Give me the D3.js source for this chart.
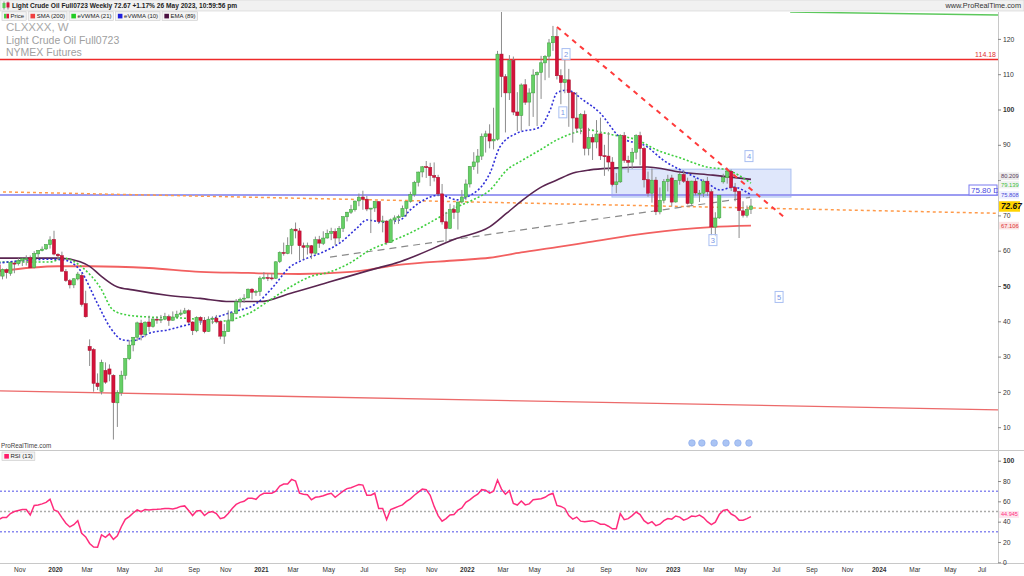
<!DOCTYPE html>
<html><head><meta charset="utf-8">
<script src="https://cdn.jsdelivr.net/npm/d3@7"></script>
<style>body{margin:0;background:#fff;}svg{display:block;font-family:"Liberation Sans",Arial,sans-serif;}</style>
</head><body><svg id="c" width="1024" height="576"></svg>
<script>
// ---------- DATA ----------
const firstWeek = "2019-09-30";   // Monday of first weekly candle
const opens = [
56.0,52.8,54.6,53.6,56.5,56.3,57.1,57.7,58.0,55.3,59.1,60.0,60.5,61.7,
63.2,59.0,58.6,54.1,51.5,50.3,52.0,53.0,45.0,32.9,32.0,22.5,20.1,26.1,26.5,24.7,16.9,19.8,24.7,29.4,33.3,35.5,39.5,36.3,39.8,38.5,40.6,40.5,40.6,41.3,40.3,41.2,42.0,42.3,43.0,39.8,37.3,41.1,40.3,37.1,40.6,40.9,39.9,35.8,37.1,40.1,42.2,45.5,46.3,46.6,49.1,48.2,
48.4,52.2,52.4,52.3,52.2,56.9,59.5,59.2,61.5,66.1,65.6,61.4,61.0,61.4,59.3,63.1,62.1,63.6,64.9,65.4,63.6,66.3,69.6,70.9,71.6,74.1,75.2,74.6,71.8,72.1,73.9,68.3,68.4,62.3,68.7,69.3,69.7,72.0,74.0,75.9,79.4,82.3,83.8,83.6,81.3,80.8,76.1,68.2,66.3,71.7,70.9,73.8,
75.2,78.9,83.8,85.1,86.8,92.3,93.1,91.1,91.6,115.7,109.3,104.7,113.9,99.3,98.3,107.0,102.1,104.7,109.8,110.5,113.2,115.1,118.9,120.7,109.6,107.6,108.4,104.8,97.6,94.7,98.6,89.0,92.1,90.8,93.1,86.9,86.8,85.1,78.7,79.5,92.6,85.6,85.1,87.9,92.6,89.0,80.1,76.3,80.0,71.0,74.3,79.6,
80.6,73.8,79.9,81.6,79.7,73.4,79.7,76.3,76.3,79.7,76.7,66.7,69.3,79.5,80.7,82.5,77.9,76.8,71.3,70.0,71.7];
const highs = [
56.3,54.95,54.95,56.92,56.9,57.88,58.0,58.7,58.65,59.85,60.2,61.2,61.9,64.09,
65.65,59.3,59.73,54.78,52.0,52.2,54.0,53.6,48.66,34.88,32.4,25.24,29.13,28.36,27.8,25.0,20.48,26.0,29.5,34.66,35.5,39.9,40.44,40.0,41.6,40.9,41.4,41.8,42.4,41.9,42.8,43.0,43.3,43.8,43.4,40.0,41.4,41.4,41.2,41.4,41.4,41.8,40.2,39.2,43.1,42.7,46.3,46.7,47.7,49.3,49.4,48.9,
52.75,53.93,53.5,53.6,57.0,59.8,62.3,63.8,66.4,67.98,66.4,62.3,62.3,61.6,64.0,64.2,65.5,66.0,66.5,66.3,67.0,69.8,71.0,72.99,74.2,76.2,76.98,75.5,72.1,74.0,74.0,69.9,68.6,69.1,70.0,70.2,72.8,74.0,76.7,79.8,82.4,84.0,85.41,84.9,85.0,81.5,78.9,71.0,73.3,72.9,73.9,77.2,
80.2,84.0,87.9,88.8,93.2,94.0,95.8,100.5,116.6,130.5,110.0,115.4,115.0,104.9,107.4,108.6,106.0,111.4,110.8,115.2,115.4,119.98,123.68,123.0,111.4,114.0,111.5,105.0,104.9,99.0,99.7,94.8,93.0,97.0,97.7,90.0,93.6,86.5,82.0,93.0,93.6,86.9,89.1,93.0,93.7,89.5,82.4,83.3,80.9,77.9,80.3,81.5,
81.5,80.0,82.0,82.7,80.7,79.8,80.5,77.2,80.2,80.9,77.4,70.9,75.7,81.8,83.5,83.0,79.2,76.9,74.0,72.8,74.7];
const lows = [
50.99,51.88,52.11,52.9,53.62,55.8,55.64,55.8,55.11,55.0,58.0,59.8,60.2,60.6,
58.68,57.36,54.13,51.17,49.31,49.4,51.6,44.18,41.05,27.34,20.06,20.52,19.27,22.28,23.0,6.5,10.07,18.9,23.5,29.0,31.5,34.4,34.6,35.5,37.1,38.2,39.3,39.5,40.3,38.7,40.2,41.0,41.5,42.1,39.3,36.1,36.9,39.0,36.6,37.0,39.2,39.4,34.9,33.6,37.0,40.0,42.0,43.9,45.2,46.6,46.2,47.2,
47.2,51.8,51.4,51.6,52.0,56.5,58.6,59.0,59.0,63.5,57.3,57.6,58.9,57.6,58.9,60.8,61.6,63.4,63.0,61.6,62.5,65.3,68.3,70.4,71.1,72.6,71.6,71.2,65.0,71.0,67.6,65.2,61.7,62.2,67.5,67.6,69.6,69.7,73.6,75.3,78.2,80.8,80.6,78.3,79.6,75.4,67.4,62.43,66.2,69.0,66.0,73.4,
74.3,77.9,82.9,81.8,85.7,87.8,89.0,88.7,91.2,103.5,93.5,102.7,98.4,93.9,94.0,101.3,95.3,97.9,95.3,103.0,108.3,109.0,116.6,108.5,101.5,104.6,95.1,90.6,93.5,93.0,87.0,87.0,85.7,89.0,85.7,81.2,82.5,78.2,76.3,79.2,84.9,82.1,83.2,85.9,84.2,77.9,75.3,73.6,70.1,70.3,73.4,76.8,
72.5,73.6,78.7,79.2,73.1,73.0,75.7,73.8,75.2,75.5,64.36,64.1,69.0,79.0,79.0,76.9,74.0,63.6,69.4,69.4,70.4];
const closes = [
52.81,54.70,53.78,56.66,56.20,57.24,57.72,57.77,55.17,59.20,60.07,60.44,61.72,63.05,
59.04,58.54,54.19,51.56,50.32,52.05,53.38,44.76,41.28,31.73,22.43,21.51,28.34,22.76,25.03,16.94,19.78,24.74,29.43,33.25,35.49,39.55,36.26,39.75,38.49,40.65,40.55,40.59,41.29,40.27,41.22,42.01,42.34,42.97,39.77,37.33,41.11,40.25,37.05,40.60,40.88,39.85,35.79,37.14,40.13,42.15,45.53,46.26,46.57,49.10,48.23,48.52,
52.24,52.36,52.27,52.20,56.85,59.47,59.24,61.50,66.09,65.61,61.42,60.97,61.45,59.32,63.13,62.14,63.58,64.90,65.37,63.58,66.32,69.62,70.91,71.64,74.05,75.16,74.56,71.81,72.07,73.95,68.28,68.44,62.32,68.74,69.29,69.72,71.97,73.98,75.88,79.35,82.28,83.76,83.57,81.27,80.79,76.10,68.15,66.26,71.67,70.86,73.79,75.21,
78.90,83.82,85.14,86.82,92.31,93.10,91.07,91.59,115.68,109.33,104.70,113.90,99.27,98.26,106.95,102.07,104.69,109.77,110.49,113.23,115.07,118.87,120.67,109.56,107.62,108.43,104.79,97.59,94.70,98.62,89.01,92.09,90.77,93.06,86.87,86.79,85.11,78.74,79.49,92.64,85.61,85.05,87.90,92.61,88.96,80.08,76.28,79.98,71.02,74.29,79.56,80.26,
73.77,79.86,81.64,79.68,73.39,79.72,76.34,76.32,79.68,76.68,66.74,69.26,75.67,80.70,82.52,77.87,76.78,71.34,70.04,71.69,72.67];
const rsi = [
42,44,44,48,50,51,52,52,46.6,56,56.5,57.5,59,62,
51.5,50,44,38.5,34.8,37,41,28.5,25,18.5,15,14.8,27,24.6,27.9,22.6,26,
35,42.3,45,48.5,51.5,49.8,52,51.5,52,52.2,
52.5,53,53,52.5,53.5,55,55.5,51,46,50.5,
51,46,49,50,48,43,44,48,53,57,
59,60,63,63,62,66,68,68,68,70,
75,77,77,81.6,80,68,67,66.5,61.5,64,
64.5,65.5,67,68,64,67,70,72.5,73.4,75,
76.5,76,66,66,68,53,53,42,52,53.5,
55,56.5,60,62.5,66,69,72,71.5,66,55,
46,40.5,43,46.5,47,51.5,53.5,59,61.5,64.6,
67,71.5,71,68,70,81,72,67,70.5,58,
56.4,60.3,56.5,57.5,61.5,62,62.5,64,66.5,68,
56,55,53,46,42.5,44.5,40.5,40,40.5,41,
39.5,37.5,37.5,35.5,33,33,48,42,43,46,
49.5,47,41,38,40,36,37.5,41,43,42.5,
45.6,44.5,41.5,43,45.5,45,46.5,44,40,37,
39.5,47,51,52,47.5,45.5,41.5,41.5,43,44.945];

// indicator lines: week index (from firstWeek) and value
const smaWeek  = [0,15,23,38,51,63,76,89,101,116,124,132,141,149,164,180,190];
const smaValue = [54.2,55.6,55.6,55.1,54.0,53.7,53.4,54.0,56.0,57.3,58.0,59.5,61.0,62.4,65.0,66.7,67.106];
const emaWeek  = [0,15.5,20.6,23.1,25.6,29.9,33.9,42.5,50.9,58.4,66,73.6,83.7,93.8,101.4,115.8,124.1,128.4,132.4,136.7,141,145.1,149.4,155.2,163.8,172.1,180.4,190];
const emaValue = [57.9,57.9,56.9,55.5,53.1,49.8,48.9,47.4,46.5,45.6,45.6,47.9,51.2,54.5,56.9,63.5,66.8,70.7,74.4,77.8,80.0,82.0,82.9,83.4,83.7,82.3,81.4,80.209];
const ev10Week  = [0,13,16.3,20.6,24.9,28.1,31.4,34,38.2,42.5,46.6,50.9,58.4,65.3,69.3,73.6,76.9,81.9,86.2,90.5,93,97.1,101.4,103.9,109,111.5,115.8,118.3,124.1,126.6,130.9,136.7,139.3,141,143.6,147.6,151.9,156.9,163.8,167.8,173.8,178.9,182.2,185.5,190];
const ev10Value = [56.5,57.6,57.4,54.5,45.2,38.4,34.7,34.5,36.7,37.5,38.7,39.8,42.4,45.2,49.7,55.4,57.4,59.6,62.2,66.4,68.7,68.1,68.7,71.5,75.2,75.8,74.4,75.2,82.0,89.4,93.3,95.0,99.9,104.7,105.5,102.7,99.0,92.2,89.4,85.7,82.0,79.2,77.2,78.0,75.808];
const ev21Week  = [0,13,16.3,21.3,25.6,28.9,32.4,38.2,46.6,50.9,53.4,58.4,63.5,68.5,73.6,78.6,83.7,88.7,93.8,98.8,103.9,111.5,115.8,119.8,124.1,128.4,132.4,136.7,141,146,149.4,151.9,155.2,161.2,166.3,172.1,178.9,183.9,190];
const ev21Value = [56.8,56.8,57.9,55.1,49.7,43.2,41.8,41.2,40.9,40.4,39.8,40.4,42.4,46.0,49.7,52.6,54.0,56.5,60.2,62.5,65.0,69.6,72.4,74.4,77.2,82.9,85.7,88.5,91.4,93.6,94.2,93.6,92.8,91.4,88.5,86.3,83.7,82.9,79.139];

// drawn objects (week index, price)
const resistanceLevel = 114.18;
const zoneLevel = 75.80;
const redTrend   = [[141,123.4],[198.6,69.3]];
const greyTrend  = [[83.7,58.2],[189.8,75.1]];
const orangeTrend= [[-0.4,76.7],[252.4,70.6]];
const lowTrend   = [[-0.4,20.3],[252.4,14.9]];
const greenTrend = [[199.9,127.6],[252.4,126.8]];
const zoneBox    = {w0:154.9, w1:200.1, top:83.1, bottom:75.2};
const waveLabels = [["1",142.5,99.2],["2",143.3,115.7],["3",180.4,63.0],["4",189.5,86.8],["5",197.1,46.9]];
const eventWeeks = [175.1,177.6,180.7,183.7,186.7,189.5];

const priceTicks = [10,20,30,40,50,60,70,80,90,100,110,120];
const priceTickLabels = ["10","20","30","40","50","60","70","","90","100","110","120"]; // "80" hidden under value tags
const rsiTicks = [0,20,40,60,80,100];
const monthTicks = ["2019-11","2020-01","2020-03","2020-05","2020-07","2020-09","2020-11","2021-01","2021-03","2021-05","2021-07","2021-09","2021-11","2022-01","2022-03","2022-05","2022-07","2022-09","2022-11","2023-01","2023-03","2023-05","2023-07","2023-09","2023-11","2024-01","2024-03","2024-05","2024-07"];
const monthLabels = ["Nov","2020","Mar","May","Jul","Sep","Nov","2021","Mar","May","Jul","Sep","Nov","2022","Mar","May","Jul","Sep","Nov","2023","Mar","May","Jul","Sep","Nov","2024","Mar","May","Jul"];

// ---------- LAYOUT ----------
const svg = d3.select("#c");
const W = 1024, H = 576, AX = 998;
const PT = 12, PB = 450, RT = 451, RB = 563;
const d0 = d3.isoParse(firstWeek + "T00:00:00Z");
const dates = d3.range(closes.length).map(i => d3.utcDay.offset(d0, 7*i));
const x = d3.scaleUtc().domain([d0, dates[dates.length-1]]).range([-1.44, 750.96]);
const xw = w => x(new Date(+d0 + w*7*864e5));
const y = d3.scaleLinear().domain([10,120]).range([427.2, 38.9]);
const yr = d3.scaleLinear().domain([0,100]).range([562.3, 460.7]);

const defs = svg.append("defs");
defs.append("clipPath").attr("id","cp").append("rect").attr("x",0).attr("y",PT).attr("width",AX).attr("height",PB-PT);
defs.append("clipPath").attr("id","cr").append("rect").attr("x",0).attr("y",RT).attr("width",AX).attr("height",RB-RT);

svg.append("rect").attr("width",W).attr("height",H).attr("fill","#fff");

// price panel
const P = svg.append("g").attr("clip-path","url(#cp)");

// watermark
P.append("text").attr("x",6).attr("y",31).attr("font-size",11.5).attr("fill","#a8a8a8").text("CLXXXX, W");
P.append("text").attr("x",6).attr("y",43.5).attr("font-size",10.5).attr("fill","#a0a0a0").text("Light Crude Oil Full0723");
P.append("text").attr("x",6).attr("y",55.5).attr("font-size",10.5).attr("fill","#a0a0a0").text("NYMEX Futures");

// zone box
P.append("rect").attr("x",xw(zoneBox.w0)).attr("y",y(zoneBox.top))
  .attr("width",xw(zoneBox.w1)-xw(zoneBox.w0)).attr("height",y(zoneBox.bottom)-y(zoneBox.top))
  .attr("fill","#dfe7fb").attr("stroke","#a9bff0").attr("stroke-width",1);

const seg = (g, pts, attrs) => {
  const l = g.append("line").attr("x1",xw(pts[0][0])).attr("y1",y(pts[0][1])).attr("x2",xw(pts[1][0])).attr("y2",y(pts[1][1]));
  Object.entries(attrs).forEach(([k,v]) => l.attr(k,v));
};
// horizontal levels
P.append("line").attr("x1",0).attr("x2",AX).attr("y1",y(zoneLevel)).attr("y2",y(zoneLevel)).attr("stroke","#9c9cf2").attr("stroke-width",2);
P.append("line").attr("x1",0).attr("x2",AX).attr("y1",y(resistanceLevel)).attr("y2",y(resistanceLevel)).attr("stroke","#ee2a2a").attr("stroke-width",1.4);
seg(P, lowTrend, {stroke:"#ec6a6a","stroke-width":1.3});
seg(P, greenTrend, {stroke:"#5cc85c","stroke-width":1.5});
seg(P, orangeTrend, {stroke:"#ff9a4a","stroke-width":1.5,"stroke-dasharray":"3,3"});
seg(P, greyTrend, {stroke:"#8a8a8a","stroke-width":1.2,"stroke-dasharray":"7,5"});

// indicators
const mk = (ws, vs) => d3.line().curve(d3.curveMonotoneX).x((d,i)=>xw(ws[i])).y((d,i)=>y(vs[i]))(vs);
P.append("path").attr("d",mk(smaWeek,smaValue)).attr("fill","none").attr("stroke","#f26060").attr("stroke-width",1.8);
P.append("path").attr("d",mk(emaWeek,emaValue)).attr("fill","none").attr("stroke","#5a2550").attr("stroke-width",1.6);
P.append("path").attr("d",mk(ev21Week,ev21Value)).attr("fill","none").attr("stroke","#3fcf3f").attr("stroke-width",1.6).attr("stroke-dasharray","2,2");
P.append("path").attr("d",mk(ev10Week,ev10Value)).attr("fill","none").attr("stroke","#3030d8").attr("stroke-width",1.6).attr("stroke-dasharray","2,2");

// candles
const cg = P.append("g");
dates.forEach((d,i) => {
  const cx = x(d), up = closes[i] >= opens[i];
  cg.append("line").attr("x1",cx).attr("x2",cx).attr("y1",y(highs[i])).attr("y2",y(lows[i])).attr("stroke","#8c8c8c").attr("stroke-width",1);
  const t = y(Math.max(opens[i],closes[i])), b = y(Math.min(opens[i],closes[i]));
  cg.append("rect").attr("x",cx-1.6).attr("y",t).attr("width",3.2).attr("height",Math.max(1,b-t))
    .attr("fill", up ? "#66d066" : "#d4123a").attr("stroke", up ? "#3c9c3c" : "#a8102e").attr("stroke-width",0.5);
});

// red dashed trend over candles
seg(P, redTrend, {stroke:"#ff3b3b","stroke-width":2,"stroke-dasharray":"5,5"});

// wave labels
waveLabels.forEach(([t,w,v]) => {
  const cx = xw(w), cy = y(v);
  P.append("rect").attr("x",cx-4).attr("y",cy-5.5).attr("width",8).attr("height",11).attr("fill","#fff").attr("fill-opacity",0.6).attr("stroke","#a9bff2");
  P.append("text").attr("x",cx).attr("y",cy+3).attr("text-anchor","middle").attr("font-size",7.5).attr("fill","#7a97e6").text(t);
});
// event markers
eventWeeks.forEach(w => {
  P.append("circle").attr("cx",xw(w)).attr("cy",443).attr("r",3.3).attr("fill","#aac4f4").attr("stroke","#86a6ea").attr("stroke-width",0.6);
});
P.append("text").attr("x",1).attr("y",448).attr("font-size",6.3).attr("fill","#444").text("ProRealTime.com");

// labels inside plot
P.append("text").attr("x",996).attr("y",y(resistanceLevel)-2.5).attr("text-anchor","end").attr("font-size",7).attr("fill","#e03030").text("114.18");
P.append("rect").attr("x",969).attr("y",185).attr("width",28).attr("height",10).attr("fill","#fff").attr("stroke","#7b7bf0");
P.append("text").attr("x",971).attr("y",193).attr("font-size",8).attr("fill","#4a4ae0").text("75.80 D");

// RSI panel
const R = svg.append("g").attr("clip-path","url(#cr)");
[[70,"#8a8af0"],[30,"#8a8af0"],[50,"#aaaaaa"]].forEach(([v,c]) => {
  R.append("line").attr("x1",0).attr("x2",AX).attr("y1",yr(v)).attr("y2",yr(v)).attr("stroke",c).attr("stroke-width",1.4).attr("stroke-dasharray","2,2");
});
R.append("path").attr("d",d3.line().x((d,i)=>x(dates[i])).y(d=>yr(d))(rsi)).attr("fill","none").attr("stroke","#ff2d7d").attr("stroke-width",1.5);

// panel frames
svg.append("line").attr("x1",0).attr("x2",W).attr("y1",PB+0.5).attr("y2",PB+0.5).attr("stroke","#c8c8c8");
svg.append("line").attr("x1",0).attr("x2",W).attr("y1",RB+0.5).attr("y2",RB+0.5).attr("stroke","#c8c8c8");
svg.append("line").attr("x1",AX+0.5).attr("x2",AX+0.5).attr("y1",PT).attr("y2",RB).attr("stroke","#c8c8c8");

// axes
const styleAxis = (g, boldSet) => {
  g.select(".domain").remove();
  g.selectAll(".tick line").attr("stroke","#888");
  g.selectAll(".tick text").attr("font-size",6.8).attr("fill","#333").attr("font-family","Liberation Sans, Arial, sans-serif")
   .attr("font-weight", d => boldSet.includes(d) ? "bold" : "normal");
};
const ya = svg.append("g").attr("transform",`translate(${AX},0)`).call(d3.axisRight(y).tickValues(priceTicks).tickSize(3).tickPadding(2)
  .tickFormat((d,i) => priceTickLabels[i]));
styleAxis(ya,[50,100]);
const ra = svg.append("g").attr("transform",`translate(${AX},0)`).call(d3.axisRight(yr).tickValues(rsiTicks).tickSize(3).tickPadding(2).tickFormat(d3.format("d")));
styleAxis(ra,[100]);
const tickDates = monthTicks.map(m => d3.utcMonday.ceil(d3.isoParse(m + "-01T00:00:00Z")));
const xa = svg.append("g").attr("transform",`translate(1,${RB})`).call(d3.axisBottom(x).tickValues(tickDates).tickSize(0).tickPadding(4)
  .tickFormat((d,i) => monthLabels[i]));
xa.select(".domain").remove();
xa.selectAll(".tick text").attr("font-size",6.5).attr("fill","#333").attr("font-family","Liberation Sans, Arial, sans-serif")
  .attr("font-weight",(d,i) => /^\d/.test(monthLabels[i]) ? "bold" : "normal");

// right-axis value labels
const vlab = (txt, yy, fg, bg, opts={}) => {
  const h = opts.h || 7.6, fs = opts.fs || 5.8;
  svg.append("rect").attr("x",999).attr("y",yy-h/2).attr("width",opts.w||20).attr("height",h).attr("fill",bg);
  svg.append("text").attr("x",1001).attr("y",yy+fs*0.36).attr("font-size",fs).attr("fill",fg)
    .attr("font-weight",opts.bold?"bold":"normal").attr("font-style",opts.italic?"italic":"normal").text(txt);
};
vlab("80.209",176.2,"#5a3a5a","#ececec");
vlab("79.139",184.6,"#3cbf3c","#f2f2f2");
vlab("75.808",y(75.808),"#4a4ad8","#eef0ff");
vlab("72.67",y(72.67)+0.5,"#111","#ffd400",{bold:true,italic:true,fs:8.3,h:10.5,w:21});
vlab("67.106",y(67.106),"#e03030","#fbe3e3");
vlab("44.945",yr(44.945)-2.2,"#ff2d7d","#fde6ef",{fs:5.5,h:7});

// header
svg.append("rect").attr("x",0).attr("y",0).attr("width",W).attr("height",11).attr("fill","#f1f1f1").attr("stroke","#d0d0d0").attr("stroke-width",0.6);
svg.append("line").attr("x1",4).attr("x2",4).attr("y1",1.5).attr("y2",9.5).attr("stroke","#888");
svg.append("rect").attr("x",2.5).attr("y",3).attr("width",3).attr("height",5).attr("fill","#5ac85a");
svg.append("line").attr("x1",8).attr("x2",8).attr("y1",1.5).attr("y2",9.5).attr("stroke","#888");
svg.append("rect").attr("x",6.5).attr("y",2.5).attr("width",3).attr("height",5).attr("fill","#d4123a");
svg.append("text").attr("x",12).attr("y",8.4).attr("font-size",6.6).attr("font-weight","bold").attr("fill","#222")
  .text("Light Crude Oil Full0723 Weekly 72.67 +1.17% 26 May 2023, 10:59:56 pm");
svg.append("text").attr("x",1021).attr("y",8.4).attr("text-anchor","end").attr("font-size",7.3).attr("fill","#333").text("www.ProRealTime.com");

// legends
const legend = (items, yy) => {
  let xx = 2;
  items.forEach(([label, col]) => {
    const g = svg.append("g");
    const t = g.append("text").attr("x",xx+8.5).attr("y",yy+6.3).attr("font-size",6).attr("fill","#222").text(label);
    const tw = t.node().getComputedTextLength();
    g.insert("rect","text").attr("x",xx).attr("y",yy).attr("width",tw+10.5).attr("height",8.6).attr("fill","#f4f4f4").attr("stroke","#c8c8c8").attr("stroke-width",0.6);
    if (Array.isArray(col)) {
      g.append("rect").attr("x",xx+2).attr("y",yy+2).attr("width",2.5).attr("height",4.6).attr("fill",col[0]);
      g.append("rect").attr("x",xx+4.5).attr("y",yy+2).attr("width",2.5).attr("height",4.6).attr("fill",col[1]);
    } else g.append("rect").attr("x",xx+2.3).attr("y",yy+2).attr("width",4.6).attr("height",4.6).attr("fill",col);
    xx += tw + 12.5;
  });
};
legend([["Price",["#44cc44","#e0103a"]],["SMA (200)","#f04040"],["eVWMA (21)","#22cc22"],["eVWMA (10)","#2020dd"],["EMA (89)","#4a1040"]], 11.8);
legend([["RSI (13)","#ff1a6a"]], 452);
</script></body></html>
